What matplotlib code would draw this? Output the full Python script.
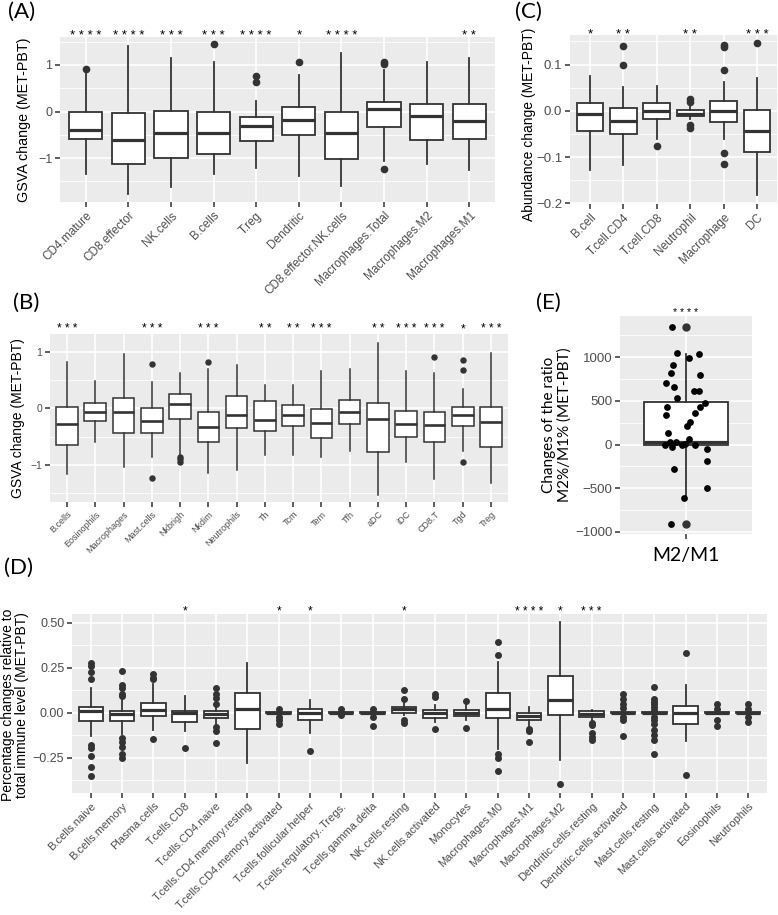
import matplotlib
matplotlib.use("Agg")
import matplotlib.pyplot as plt
import numpy as np

plt.rcParams['font.family'] = ['Liberation Sans', 'DejaVu Sans']

W, H = 778, 915

# ---------------- (A) GSVA change, immune signatures
a_names = ['CD4.mature', 'CD8.effector', 'NK.cells', 'B.cells', 'T.reg', 'Dendritic',
           'CD8.effector.NK.cells', 'Macrophages.Total', 'Macrophages.M2', 'Macrophages.M1']
a_lo = [-1.34, -1.77, -1.61, -1.34, -1.20, -1.38, -1.60, -1.07, -1.12, -1.25]
a_q1 = [-0.59, -1.13, -1.00, -0.91, -0.63, -0.51, -1.01, -0.34, -0.61, -0.59]
a_med = [-0.39, -0.61, -0.46, -0.45, -0.31, -0.19, -0.45, 0.06, -0.09, -0.20]
a_q3 = [-0.01, -0.04, 0.02, -0.01, -0.12, 0.09, -0.01, 0.20, 0.16, 0.16]
a_hi = [0.86, 1.41, 1.16, 1.07, 0.23, 0.79, 1.26, 0.89, 1.06, 1.16]
a_out = [[0.91], [], [], [1.45], [0.77, 0.64], [1.07], [], [1.07, 1.02, -1.23], [], []]
a_stars = ['****', '****', '***', '***', '****', '*', '****', '', '', '**']

# ---------------- (B) GSVA change, cell types
b_names = ['B.cells', 'Eosinophils', 'Macrophages', 'Mast.cells', 'Nkbrigh', 'Nkdim',
           'Neutrophils', 'Th', 'Tcm', 'Tem', 'Tfh', 'aDC', 'iDC', 'CD8.T', 'Tgd', 'Treg']
b_lo = [-1.15, -0.59, -1.03, -0.85, -0.84, -1.14, -1.09, -0.82, -0.82, -0.86, -0.75, -1.53,
        -0.94, -1.25, -0.75, -1.31]
b_q1 = [-0.65, -0.22, -0.44, -0.43, -0.19, -0.59, -0.34, -0.40, -0.31, -0.53, -0.28, -0.77,
        -0.50, -0.60, -0.31, -0.68]
b_med = [-0.28, -0.06, -0.06, -0.22, 0.07, -0.32, -0.11, -0.21, -0.12, -0.25, -0.06, -0.19,
         -0.28, -0.30, -0.12, -0.24]
b_q3 = [0.03, 0.10, 0.19, 0.01, 0.25, -0.07, 0.21, 0.13, 0.06, -0.02, 0.15, 0.10,
        -0.04, -0.06, 0.02, 0.03]
b_hi = [0.81, 0.48, 0.96, 0.47, 0.62, 0.69, 0.76, 0.42, 0.41, 0.66, 0.69, 1.16,
        0.66, 0.63, 0.34, 0.97]
b_out = [[], [], [], [0.78, -1.22], [-0.86, -0.90, -0.94], [0.81], [], [], [], [], [], [],
         [], [0.90], [0.85, 0.67, -0.95], []]
b_stars = ['***', '', '', '***', '', '***', '', '**', '**', '***', '', '**', '***', '***', '*', '***']

# ---------------- (C) abundance change
c_names = ['B.cell', 'T.cell.CD4', 'T.cell.CD8', 'Neutrophil', 'Macrophage', 'DC']
c_lo = [-0.129, -0.118, -0.061, -0.018, -0.061, -0.182]
c_q1 = [-0.043, -0.050, -0.018, -0.011, -0.024, -0.089]
c_med = [-0.007, -0.021, 0.000, -0.006, 0.000, -0.044]
c_q3 = [0.016, 0.006, 0.016, 0.001, 0.021, 0.001]
c_hi = [0.076, 0.052, 0.054, 0.011, 0.062, 0.071]
c_out = [[], [0.141, 0.099], [-0.077], [0.025, 0.018, -0.031, -0.038],
         [0.143, 0.137, 0.089, -0.091, -0.116], [0.146]]
c_stars = ['*', '**', '', '**', '', '***']

# ---------------- (D) CIBERSORT percentage changes
d_names = ['B.cells.naive', 'B.cells.memory', 'Plasma.cells', 'T.cells.CD8', 'T.cells.CD4.naive',
           'T.cells.CD4.memory.resting', 'T.cells.CD4.memory.activated', 'T.cells.follicular.helper',
           'T.cells.regulatory..Tregs.', 'T.cells.gamma.delta', 'NK.cells.resting',
           'NK.cells.activated', 'Monocytes', 'Macrophages.M0', 'Macrophages.M1', 'Macrophages.M2',
           'Dendritic.cells.resting', 'Dendritic.cells.activated', 'Mast.cells.resting',
           'Mast.cells.activated', 'Eosinophils', 'Neutrophils']
d_lo = [-0.132, -0.117, -0.098, -0.102, -0.065, -0.280, -0.006, -0.111, -0.005, -0.005,
        -0.015, -0.052, -0.043, -0.200, -0.080, -0.262, -0.043, -0.006, -0.006, -0.160, -0.005, -0.005]
d_q1 = [-0.048, -0.045, -0.017, -0.052, -0.028, -0.089, -0.004, -0.043, -0.003, -0.003,
        0.000, -0.028, -0.020, -0.028, -0.039, -0.011, -0.024, -0.003, -0.003, -0.065, -0.003, -0.003]
d_med = [0.007, -0.009, 0.017, 0.000, -0.006, 0.019, 0.000, -0.002, 0.000, 0.000,
         0.019, 0.000, 0.000, 0.022, -0.020, 0.072, -0.006, 0.000, 0.000, 0.000, 0.000, 0.000]
d_q3 = [0.032, 0.009, 0.056, 0.009, 0.009, 0.108, 0.004, 0.019, 0.003, 0.003,
        0.032, 0.017, 0.013, 0.108, -0.002, 0.202, 0.007, 0.003, 0.003, 0.037, 0.003, 0.003]
d_hi = [0.137, 0.069, 0.161, 0.091, 0.039, 0.277, 0.006, 0.072, 0.005, 0.005,
        0.059, 0.041, 0.041, 0.282, 0.032, 0.505, 0.017, 0.006, 0.006, 0.152, 0.005, 0.005]
d_out = [[0.277, 0.260, 0.226, 0.184, -0.182, -0.197, -0.243, -0.302, -0.354],
         [0.230, 0.152, 0.134, 0.106, 0.091, -0.139, -0.163, -0.191, -0.228, -0.250],
         [0.217, 0.193, 0.184, -0.145],
         [-0.197],
         [0.137, 0.106, 0.082, 0.050, -0.080, -0.102, -0.169],
         [],
         [0.022, -0.024, -0.043, -0.065],
         [-0.213],
         [0.022, -0.015],
         [0.019, -0.024, -0.076],
         [0.128, 0.078, -0.043, -0.058],
         [0.102, 0.087, -0.089],
         [0.065, -0.084],
         [0.390, 0.319, -0.228, -0.250, -0.325],
         [-0.089, -0.102, -0.163],
         [-0.395],
         [-0.058, -0.071, -0.113, -0.135, -0.154],
         [0.106, 0.078, 0.046, 0.028, -0.024, -0.043, -0.130],
         [0.143, 0.078, 0.059, 0.045, 0.032, 0.017, -0.024, -0.043, -0.061, -0.095, -0.126,
          -0.154, -0.228],
         [0.329, -0.345],
         [0.045, 0.022, -0.039, -0.076],
         [0.046, 0.022, -0.024, -0.052]]
d_stars = ['', '', '', '*', '', '', '*', '*', '', '', '*', '', '', '', '****', '*', '***',
           '', '', '', '', '']

# ---------------- (E) M2/M1 ratio change
e_box = dict(whislo=-606, q1=0, med=30, q3=485, whishi=1042)
e_out = [1352, -909]
e_vals = [1352, 1049, 992, 1042, 917, 822, 792, 708, 655, 614, 614, 538, 481, 436, 436, 367,
          345, 265, 208, 133, -4, 27, -26, 30, 0, 11, 64, 0, -45, -189, -276, -500, -606, -909]
e_jit = [-0.13, -0.08, 0.03, 0.12, -0.12, -0.14, 0.13, -0.18, -0.11, 0.07, 0.12, -0.08, 0.17,
         -0.17, 0.13, 0.08, -0.18, 0.04, 0.01, -0.16, -0.19, -0.15, -0.13, -0.09, -0.04, -0.01,
         0.03, 0.08, 0.19, 0.19, -0.11, 0.19, -0.02, -0.14]

DARK = '#333333'


def px_axes(fig, l, t, r, b):
    return fig.add_axes([l / W, 1 - b / H, (r - l) / W, (b - t) / H])


def gg_style(ax, yticks, yminor, ylim, ysize, fmt=None):
    ax.set_facecolor('#EBEBEB')
    for s in ax.spines.values():
        s.set_visible(False)
    ax.set_ylim(*ylim)
    ax.set_yticks(yticks)
    if fmt:
        ax.set_yticklabels([fmt.format(v).replace('-', '\u2212') for v in yticks])
    ax.set_yticks(yminor, minor=True)
    ax.grid(True, which='major', color='white', linewidth=1.2)
    ax.grid(True, which='minor', axis='y', color='white', linewidth=0.6)
    ax.tick_params(which='major', length=3.5, width=1.1, color=DARK, labelcolor='#4D4D4D',
                   pad=2)
    ax.tick_params(axis='y', labelsize=ysize)
    ax.tick_params(which='minor', length=0)
    ax.set_axisbelow(True)


def gg_box(ax, names, lo, q1, med, q3, hi, out, width=0.78, lw=1.3, mlw=2.3, ms=4.5,
           xsize=7.5):
    stats = [dict(label=n, whislo=a, q1=b, med=c, q3=d, whishi=e, fliers=f)
             for n, a, b, c, d, e, f in zip(names, lo, q1, med, q3, hi, out)]
    pos = np.arange(1, len(names) + 1)
    ax.bxp(stats, positions=pos, widths=width, patch_artist=True, showcaps=False,
           boxprops=dict(facecolor='white', edgecolor=DARK, linewidth=lw),
           whiskerprops=dict(color=DARK, linewidth=lw),
           medianprops=dict(color=DARK, linewidth=mlw, solid_capstyle='butt'),
           flierprops=dict(marker='o', markerfacecolor=DARK, markeredgecolor=DARK,
                           markersize=ms))
    ax.set_xlim(0.4, len(names) + 0.6)
    ax.set_xticks(pos)
    ax.set_xticklabels(names, rotation=45, ha='right', rotation_mode='anchor',
                       fontsize=xsize, color='#4D4D4D')


def add_stars(ax, stars, y, size=9):
    # ggpubr style significance marks, spaced like the original
    for i, s in enumerate(stars):
        if s:
            ax.text(i + 1, y, ' '.join(s), transform=ax.get_xaxis_transform(), ha='center',
                    va='baseline', fontsize=size, color='black')


fig = plt.figure(figsize=(W / 100, H / 100), dpi=100)

# (A)
ax = px_axes(fig, 60, 37, 495, 202)
gg_style(ax, [-1, 0, 1], [-1.5, -0.5, 0.5, 1.5], (-1.94, 1.6), 9)
gg_box(ax, a_names, a_lo, a_q1, a_med, a_q3, a_hi, a_out, xsize=8.5)
add_stars(ax, a_stars, 0.99, size=9.5)
fig.text(24 / W, 1 - 120 / H, 'GSVA change (MET-PBT)', rotation=90, ha='center', va='center',
         fontsize=10.3)

# (C)
ax = px_axes(fig, 570, 35, 777, 204)
gg_style(ax, [-0.2, -0.1, 0.0, 0.1], [-0.15, -0.05, 0.05, 0.15], (-0.2016, 0.164), 9.5,
         fmt='{:.1f}')
gg_box(ax, c_names, c_lo, c_q1, c_med, c_q3, c_hi, c_out, width=0.8, xsize=8.5)
add_stars(ax, c_stars, 0.985, size=9.5)
fig.text(529 / W, 1 - 124 / H, 'Abundance change (MET-PBT)', rotation=90, ha='center',
         va='center', fontsize=10)

# (B)
ax = px_axes(fig, 50, 334, 508, 502)
gg_style(ax, [-1, 0, 1], [-1.5, -0.5, 0.5], (-1.65, 1.31), 7.5)
gg_box(ax, b_names, b_lo, b_q1, b_med, b_q3, b_hi, b_out, width=0.76, lw=1.1, mlw=1.9, ms=3.6,
       xsize=6.5)
add_stars(ax, b_stars, 1.01, size=8.5)
fig.text(18 / W, 1 - 418 / H, 'GSVA change (MET-PBT)', rotation=90, ha='center', va='center',
         fontsize=10)

# (E)
ax = px_axes(fig, 620, 316, 752, 534)
gg_style(ax, [-1000, -500, 0, 500, 1000], [-750, -250, 250, 750, 1250], (-1023, 1473), 9.5)
ax.bxp([dict(label='M2/M1', fliers=e_out, **e_box)], positions=[1], widths=0.76,
       patch_artist=True, showcaps=False,
       boxprops=dict(facecolor='white', edgecolor=DARK, linewidth=1.3),
       whiskerprops=dict(color=DARK, linewidth=1.3),
       medianprops=dict(color=DARK, linewidth=2.3, solid_capstyle='butt'),
       flierprops=dict(marker='o', markerfacecolor=DARK, markeredgecolor=DARK, markersize=5))
ax.scatter(1 + np.array(e_jit), e_vals, s=24, color='black', zorder=4, linewidths=0)
ax.set_xlim(0.4, 1.6)
ax.set_xticks([1])
ax.set_xticklabels(['M2/M1'], fontsize=14, family='Lato', color='black')
ax.tick_params(axis='x', pad=6)
add_stars(ax, ['****'], 1.0, size=7.5)
fig.text(557 / W, 1 - 425 / H, 'Changes of the ratio\nM2%/M1% (MET-PBT)', rotation=90,
         ha='center', va='center', fontsize=11, family='Lato', linespacing=1.1)

# (D)
ax = px_axes(fig, 72, 614, 767, 793)
gg_style(ax, [-0.25, 0.0, 0.25, 0.5], [-0.375, -0.125, 0.125, 0.375], (-0.447, 0.548), 9,
         fmt='{:.2f}')
gg_box(ax, d_names, d_lo, d_q1, d_med, d_q3, d_hi, d_out, width=0.78, lw=1.3, mlw=2.3, ms=4,
       xsize=8)
add_stars(ax, d_stars, 0.995, size=8.5)
fig.text(15 / W, 1 - 705 / H, 'Percentage changes relative to\ntotal immune level (MET-PBT)',
         rotation=90, ha='center', va='center', fontsize=10, linespacing=1.05)

# panel tags
for tag, x, y in [('(A)', 8, 2), ('(C)', 515, 2), ('(B)', 13, 293), ('(E)', 536, 293),
                  ('(D)', 4, 558)]:
    fig.text(x / W, 1 - y / H, tag, ha='left', va='top', fontsize=16, family='Lato')

fig.savefig('out.png', dpi=100)
